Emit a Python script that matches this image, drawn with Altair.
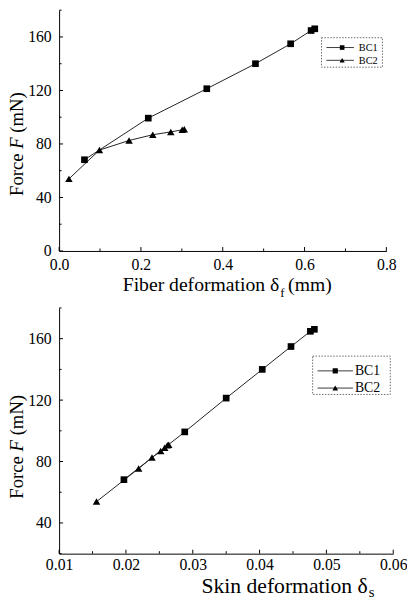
import altair as alt
import pandas as pd

# ---------------- data ----------------
series_names = ["BC1", "BC2"]
force_bc1 = [68.2, 99.3, 121.3, 140.0, 154.9, 164.8, 166.1]
force_bc2 = [53.9, 75.4, 82.6, 86.9, 89.0, 90.6, 91.0]
fiber_bc1 = [0.062, 0.218, 0.361, 0.480, 0.566, 0.616, 0.625]
fiber_bc2 = [0.024, 0.0985, 0.171, 0.229, 0.273, 0.301, 0.306]
skin_bc1 = [0.0197, 0.0288, 0.0350, 0.0404, 0.0447, 0.0476, 0.0482]
skin_bc2 = [0.0156, 0.0219, 0.0239, 0.0252, 0.0258, 0.0262, 0.0264]

top_xticks = [0.0, 0.2, 0.4, 0.6, 0.8]
top_xminor = [0.1, 0.3, 0.5, 0.7]
top_yticks = [0, 40, 80, 120, 160]
top_yminor = [20, 60, 100, 140, 180]
bot_xticks = [0.01, 0.02, 0.03, 0.04, 0.05, 0.06]
bot_xminor = [0.015, 0.025, 0.035, 0.045, 0.055]
bot_yticks = [40, 80, 120, 160]
bot_yminor = [20, 60, 100, 140, 180]

FONT = "Liberation Serif"


def one():
    return pd.DataFrame({"k": [0]})


def make_df(xb1, xb2):
    rows = []
    for x, y in zip(xb1, force_bc1):
        rows.append({"x": x, "y": y, "s": series_names[0]})
    for x, y in zip(xb2, force_bc2):
        rows.append({"x": x, "y": y, "s": series_names[1]})
    return pd.DataFrame(rows)


def text_layer(txt, x, y, size, angle=0, align="left", style="normal"):
    return alt.Chart(one()).mark_text(
        text=txt, font=FONT, fontSize=size, angle=angle, align=align,
        baseline="alphabetic", color="black", fontStyle=style,
    ).encode(x=alt.value(x), y=alt.value(y))


def legend_layers(x0, x1, y0, y1, rows_y, lx0, lx1, mx, tx, fs, msizes):
    layers = [
        alt.Chart(one()).mark_rect(
            fill="white", stroke="#444", strokeWidth=0.8, strokeDash=[1.5, 1.5]
        ).encode(x=alt.value(x0), x2=alt.value(x1), y=alt.value(y0), y2=alt.value(y1))
    ]
    shapes = ["square", "triangle-up"]
    for name, ry, shp, ms in zip(series_names, rows_y, shapes, msizes):
        layers.append(
            alt.Chart(one()).mark_rule(color="#222", strokeWidth=0.9).encode(
                x=alt.value(lx0), x2=alt.value(lx1), y=alt.value(ry)
            )
        )
        layers.append(
            alt.Chart(one()).mark_point(
                shape=shp, filled=True, color="black", opacity=1, size=ms
            ).encode(x=alt.value(mx), y=alt.value(ry))
        )
        layers.append(
            alt.Chart(one()).mark_text(
                text=name, font=FONT, fontSize=fs, align="left", baseline="middle",
                color="black",
            ).encode(x=alt.value(tx), y=alt.value(ry + 0.5))
        )
    return layers


def panel(xb1, xb2, xdom, ydom, xticks, xminor, yticks, yminor, xfmt, W, H, xpad):
    xs = alt.Scale(domain=xdom, nice=False, zero=False)
    ys = alt.Scale(domain=ydom, nice=False, zero=False)
    xaxis = alt.Axis(values=xticks, format=xfmt, title=None, ticks=False, grid=False,
                     labelPadding=xpad, labelFlush=False, labelOverlap=False,
                     labelFont=FONT, labelFontSize=16, labelColor="black")
    # invisible axis title only reserves room for the hand-set title pieces
    yaxis = alt.Axis(values=yticks, format="d", title="Force F (mN)", ticks=False,
                     grid=False, labelPadding=8, labelFlush=False, labelOverlap=False,
                     labelFont=FONT, labelFontSize=16, labelColor="black",
                     titleFont=FONT, titleFontSize=19, titleFontWeight="normal",
                     titleOpacity=0, titlePadding=0)
    base = alt.Chart(make_df(xb1, xb2))
    lines = base.mark_line(color="#222", strokeWidth=1).encode(
        x=alt.X("x:Q", scale=xs, axis=xaxis),
        y=alt.Y("y:Q", scale=ys, axis=yaxis),
        detail="s:N",
    )
    points = base.mark_point(filled=True, color="black", opacity=1).encode(
        x=alt.X("x:Q", scale=xs, axis=xaxis),
        y=alt.Y("y:Q", scale=ys, axis=yaxis),
        shape=alt.Shape("s:N", scale=alt.Scale(domain=series_names,
                                                range=["square", "triangle-up"]),
                        legend=None),
        size=alt.Size("s:N", scale=alt.Scale(domain=series_names, range=[46, 58]),
                      legend=None),
    )
    ymaj = alt.Chart(pd.DataFrame({"y": yticks})).mark_rule(color="black").encode(
        y=alt.Y("y:Q", scale=ys, axis=yaxis), x=alt.value(0), x2=alt.value(4))
    ymin = alt.Chart(pd.DataFrame({"y": yminor})).mark_rule(color="black").encode(
        y=alt.Y("y:Q", scale=ys, axis=yaxis), x=alt.value(0), x2=alt.value(2.5))
    xmaj = alt.Chart(pd.DataFrame({"x": xticks})).mark_rule(color="black").encode(
        x=alt.X("x:Q", scale=xs, axis=xaxis), y=alt.value(H), y2=alt.value(H - 4))
    xmin = alt.Chart(pd.DataFrame({"x": xminor})).mark_rule(color="black").encode(
        x=alt.X("x:Q", scale=xs, axis=xaxis), y=alt.value(H), y2=alt.value(H - 2.5))
    return [lines, points, ymaj, ymin, xmaj, xmin]


# ---------------- top panel ----------------
W1, H1 = 333, 245
top_layers = panel(fiber_bc1, fiber_bc2, [0, 0.8], [0, 180], top_xticks, top_xminor,
                   top_yticks, top_yminor, ".1f", W1, H1, 6)
top_layers += legend_layers(267, 329, 28, 58, [38, 51], 272, 300, 288, 305, 10.5,
                            [22, 28])
top_layers += [
    text_layer("Fiber deformation δ", 224, H1 + 41, 20, align="right"),
    text_layer("f", 225, H1 + 47, 13),
    text_layer("(mm)", 233, H1 + 41, 20),
    text_layer("Force", -37, 189, 19, angle=270),
    text_layer("F", -37, 141, 19, angle=270, style="italic"),
    text_layer("(mN)", -37, 124.6, 19, angle=270),
]
top = alt.layer(*top_layers).properties(width=W1, height=H1)

# ---------------- bottom panel ----------------
W2, H2 = 340, 250
bot_layers = panel(skin_bc1, skin_bc2, [0.01, 0.06], [20, 180], bot_xticks, bot_xminor,
                   bot_yticks, bot_yminor, ".2f", W2, H2, 3)
bot_layers += legend_layers(258, 337, 49, 88, [64, 81.5], 263, 299, 281, 301, 14,
                            [28, 34])
bot_layers += [
    text_layer("Skin deformation δ", 314, H2 + 40, 22, align="right"),
    text_layer("s", 315, H2 + 44, 15),
    text_layer("Force", -37, 194, 19, angle=270),
    text_layer("F", -37, 146, 19, angle=270, style="italic"),
    text_layer("(mN)", -37, 129.6, 19, angle=270),
]
bottom = alt.layer(*bot_layers).properties(width=W2, height=H2)

chart = alt.vconcat(top, bottom, spacing=7).properties(
    padding={"left": 0, "top": -4, "right": 0, "bottom": 0}
).configure_view(stroke=None).configure_axis(
    labelFont=FONT, labelFontSize=16, labelColor="black",
    domainColor="black", domainWidth=1,
)

chart.save("out.html", embed_options={"renderer": "svg", "actions": False})
